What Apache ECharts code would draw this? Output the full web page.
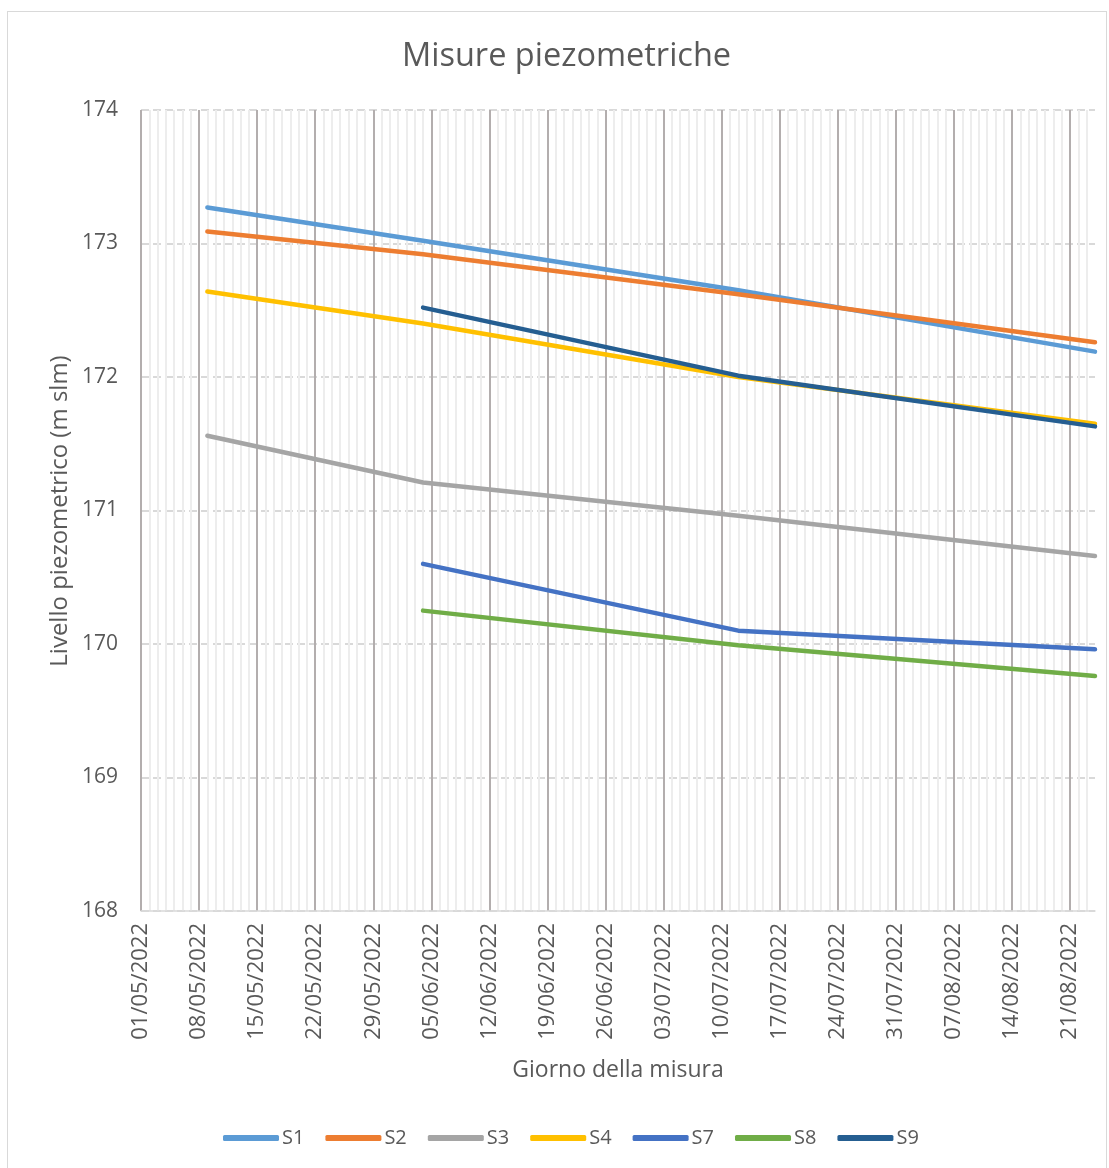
<!DOCTYPE html>
<html>
<head>
<meta charset="utf-8">
<script src="https://cdn.jsdelivr.net/npm/echarts@6/dist/echarts.min.js"></script>
<style>
html,body{margin:0;padding:0;background:#fff;}
#frame{position:absolute;left:7px;top:11px;width:1100px;height:1170px;border:1px solid #d9d9d9;box-sizing:border-box;}
#chart{position:absolute;left:0;top:0;width:1109px;height:1168px;}
</style>
</head>
<body>
<div id="frame"></div>
<div id="chart"></div>
<script>
// ---- data ----
const axisStart = '01/05/2022';
const axisEnd = '24/08/2022';
const dates = ['09/05/2022', '04/06/2022', '12/07/2022', '24/08/2022'];
const S1 = [173.27, 173.02, 172.65, 172.19];
const S2 = [173.09, 172.92, 172.62, 172.26];
const S3 = [171.56, 171.21, 170.96, 170.66];
const S4 = [172.64, 172.40, 172.00, 171.65];
const S7 = [null, 170.60, 170.10, 169.96];
const S8 = [null, 170.25, 169.99, 169.76];
const S9 = [null, 172.52, 172.01, 171.63];
const seriesNames = ['S1', 'S2', 'S3', 'S4', 'S7', 'S8', 'S9'];
const seriesValues = [S1, S2, S3, S4, S7, S8, S9];
const colors = ['#5B9BD5', '#ED7D31', '#A5A5A5', '#FFC000', '#4472C4', '#70AD47', '#255E91'];
const yTicks = [168, 169, 170, 171, 172, 173, 174];
const yAxisName = 'Livello piezometrico (m slm)';

// ---- helpers ----
function parseDate(s) {
  const p = s.split('/');
  return Date.UTC(+p[2], +p[1] - 1, +p[0]);
}
const DAY = 86400000;
const t0 = parseDate(axisStart);
function dayIndex(s) { return Math.round((parseDate(s) - t0) / DAY); }
function fmt(d) {
  const dt = new Date(t0 + d * DAY);
  const dd = String(dt.getUTCDate()).padStart(2, '0');
  const mm = String(dt.getUTCMonth() + 1).padStart(2, '0');
  return dd + '/' + mm + '/' + dt.getUTCFullYear();
}
const xMax = dayIndex(axisEnd);
const FONT = '"Open Sans", sans-serif';
const TXT = '#595959';

const series = seriesNames.map((n, i) => ({
  name: n,
  type: 'line',
  xAxisIndex: 0,
  symbol: 'none',
  smooth: false,
  connectNulls: false,
  lineStyle: { width: 4.5, color: colors[i], cap: 'round', join: 'round' },
  itemStyle: { color: colors[i] },
  data: dates.map((d, k) => seriesValues[i][k] == null ? null : [dayIndex(d), seriesValues[i][k]]).filter(v => v)
}));

const chart = echarts.init(document.getElementById('chart'), null, { renderer: 'canvas' });
chart.setOption({
  animation: false,
  backgroundColor: 'transparent',
  textStyle: { fontFamily: FONT },
  title: {
    text: 'Misure piezometriche',
    left: 397,
    top: 35,
    textStyle: { fontFamily: FONT, fontSize: 32.5, fontWeight: 'normal', color: TXT }
  },
  legend: {
    bottom: 15,
    left: 218,
    icon: 'roundRect',
    itemWidth: 56,
    itemHeight: 6,
    itemGap: 21,
    textStyle: { fontFamily: FONT, fontSize: 20, color: TXT, padding: [0, 0, 0, -2] },
    data: seriesNames
  },
  graphic: [{
    type: 'text',
    x: 60,
    y: 511,
    rotation: Math.PI / 2,
    style: {
      text: yAxisName,
      font: '24px "Open Sans", sans-serif',
      fill: TXT,
      align: 'center',
      verticalAlign: 'middle'
    }
  }],
  grid: { left: 141, right: 14, top: 110, bottom: 257, containLabel: false },
  xAxis: [
    {
      type: 'value',
      min: 0,
      max: xMax,
      interval: 7,
      z: 2,
      axisLine: { show: true, lineStyle: { color: '#d9d9d9', width: 1.5 } },
      axisTick: { show: false },
      axisLabel: {
        rotate: 90,
        margin: 12,
        showMaxLabel: false,
        fontFamily: FONT,
        fontSize: 22,
        color: TXT,
        formatter: v => fmt(v)
      },
      splitLine: { show: true, showMaxLine: false, lineStyle: { color: '#b3aeae', width: 2 } },
      name: 'Giorno della misura',
      nameLocation: 'middle',
      nameGap: 148,
      nameTextStyle: { fontFamily: FONT, fontSize: 23, color: TXT }
    },
    {
      type: 'value',
      min: 0,
      max: xMax,
      interval: 1,
      z: 1,
      axisLine: { show: false },
      axisTick: { show: false },
      axisLabel: { show: false },
      splitLine: { show: true, showMaxLine: false, lineStyle: { color: '#ededed', width: 2 } }
    }
  ],
  yAxis: {
    type: 'value',
    min: yTicks[0],
    max: yTicks[yTicks.length - 1],
    interval: 1,
    axisLine: { show: false },
    axisTick: { show: false },
    axisLabel: { margin: 23, fontFamily: FONT, fontSize: 21, color: TXT },
    splitLine: { show: true, lineStyle: { color: '#d9d9d9', width: 2, type: [8, 4] } }
  },
  series: series
});
</script>
</body>
</html>
